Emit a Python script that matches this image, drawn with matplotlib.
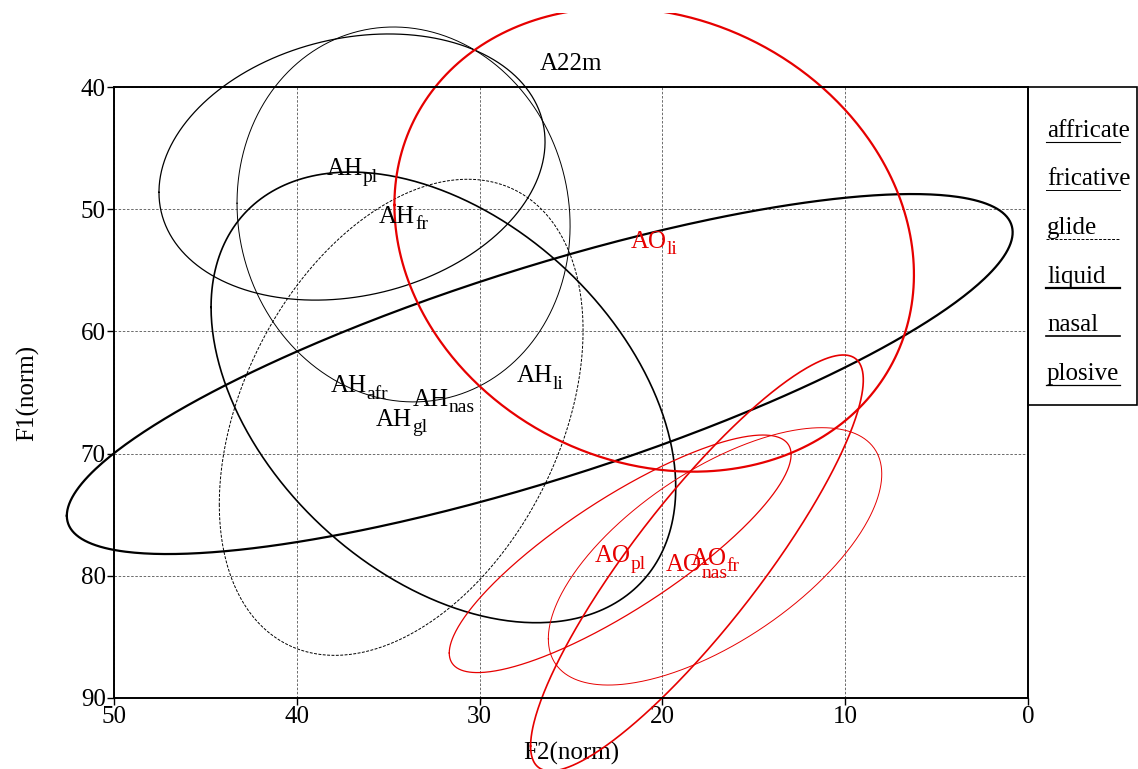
import matplotlib
matplotlib.use("Agg")
import matplotlib.pyplot as plt
from matplotlib.patches import Rectangle
import numpy as np

plt.rcParams['font.family'] = ['Liberation Serif', 'DejaVu Serif']

# ellipses: speaker group, sound class, centre, half extents, correlation
ell_group = ["AH", "AH", "AH", "AH", "AH", "AO", "AO", "AO", "AO"]
ell_class = ["fr", "gl", "li", "nas", "pl", "fr", "li", "nas", "pl"]
ell_cx = [34.16, 34.29, 26.71, 31.98, 36.98, 17.12, 20.45, 18.11, 22.31]
ell_cy = [50.43, 67.03, 63.49, 65.40, 46.55, 78.41, 52.50, 78.95, 78.20]
ell_rx = [9.11, 9.95, 25.87, 12.71, 10.56, 9.12, 14.21, 9.10, 9.35]
ell_ry = [15.34, 19.48, 14.73, 18.44, 10.89, 10.53, 18.98, 17.02, 9.72]
ell_rho = [-0.06, 0.365, 0.787, -0.40, 0.19, 0.64, -0.15, 0.88, 0.835]

# centroid labels (afr has no ellipse)
lab_group = ["AH", "AH", "AH", "AH", "AH", "AH", "AO", "AO", "AO", "AO"]
lab_class = ["afr", "fr", "gl", "li", "nas", "pl", "fr", "li", "nas", "pl"]
lab_x = [36.57, 34.16, 34.29, 26.71, 31.98, 36.98, 17.12, 20.45, 18.11, 22.31]
lab_y = [64.30, 50.43, 67.03, 63.49, 65.40, 46.55, 78.41, 52.50, 78.95, 78.20]

legend_names = ["affricate", "fricative", "glide", "liquid", "nasal", "plosive"]
legend_keys = ["afr", "fr", "gl", "li", "nas", "pl"]

xticks = [50, 40, 30, 20, 10, 0]
yticks = [40, 50, 60, 70, 80, 90]

group_col = {"AH": "black", "AO": "#e60000"}
styles = {
    "afr": dict(ls="-", lw=0.8),
    "fr": dict(ls="-", lw=0.7),
    "gl": dict(ls=(0, (3, 1.5)), lw=0.7),
    "li": dict(ls="-", lw=1.6),
    "nas": dict(ls="-", lw=1.2),
    "pl": dict(ls="-", lw=0.9),
}

W, H = 1138, 769
fig = plt.figure(figsize=(W / 100, H / 100), dpi=100)
ax = fig.add_axes([114 / W, 1 - 698 / H, (1028 - 114) / W, (698 - 87) / H])
ax.set_xlim(50, 0)
ax.set_ylim(90, 40)

ax.set_xticks(xticks)
ax.set_yticks(yticks)
ax.tick_params(direction="out", length=5, width=1, labelsize=18, pad=1)
ax.grid(True, color="#555555", ls=(0, (3, 2)), lw=0.6)
ax.set_axisbelow(True)
for s in ax.spines.values():
    s.set_linewidth(1.4)

ax.set_xlabel("F2(norm)", fontsize=18, labelpad=10)
ax.set_ylabel("F1(norm)", fontsize=18, labelpad=30)
ax.set_title("A22m", fontsize=18, pad=12)

clip = Rectangle((0, 0), 1, 1 - 13 / H, transform=fig.transFigure, visible=False)
fig.add_artist(clip)

t = np.linspace(0, 2 * np.pi, 500)
for g, c, cx, cy, rx, ry, r in zip(ell_group, ell_class, ell_cx, ell_cy,
                                  ell_rx, ell_ry, ell_rho):
    phi = np.arccos(r)
    xs = cx + rx * np.cos(t)
    ys = cy + ry * np.cos(t - phi)
    line, = ax.plot(xs, ys, color=group_col[g], clip_on=True, **styles[c])
    line.set_clip_path(clip)

# labels: main text + subscript, whole string centred on the point
renderer = fig.canvas.get_renderer()
for g, c, x, y in zip(lab_group, lab_class, lab_x, lab_y):
    col = group_col[g]
    tmp1 = fig.text(0, 0, g, fontsize=18)
    tmp2 = fig.text(0, 0, c, fontsize=14)
    w1 = tmp1.get_window_extent(renderer).width * 72 / 100
    w2 = tmp2.get_window_extent(renderer).width * 72 / 100
    tmp1.remove()
    tmp2.remove()
    main = ax.annotate(g, (x, y), xytext=(-(w1 + w2) / 2, -6),
                       textcoords="offset points", fontsize=18, color=col,
                       ha="left", va="baseline", annotation_clip=False)
    ax.annotate(c, (1, 0), xycoords=main, xytext=(0, -1),
                textcoords="offset points", fontsize=14, color=col,
                ha="left", va="baseline", annotation_clip=False)

# legend box at the right
fig.add_artist(Rectangle((1028 / W, 1 - 405 / H), 109 / W, 318 / H,
                         transform=fig.transFigure, fill=False, lw=1.2,
                         ec="black"))
for i, (name, key) in enumerate(zip(legend_names, legend_keys)):
    uy = 141.7 + i * 48.7
    fig.text(1047 / W, 1 - (uy - 5) / H, name, fontsize=18, ha="left",
             va="baseline")
    st = styles[key]
    fig.add_artist(plt.Line2D([1046 / W, 1120 / W], [1 - uy / H, 1 - uy / H],
                              transform=fig.transFigure, color="black",
                              ls=st["ls"], lw=st["lw"]))

fig.savefig("out.png", dpi=100)
